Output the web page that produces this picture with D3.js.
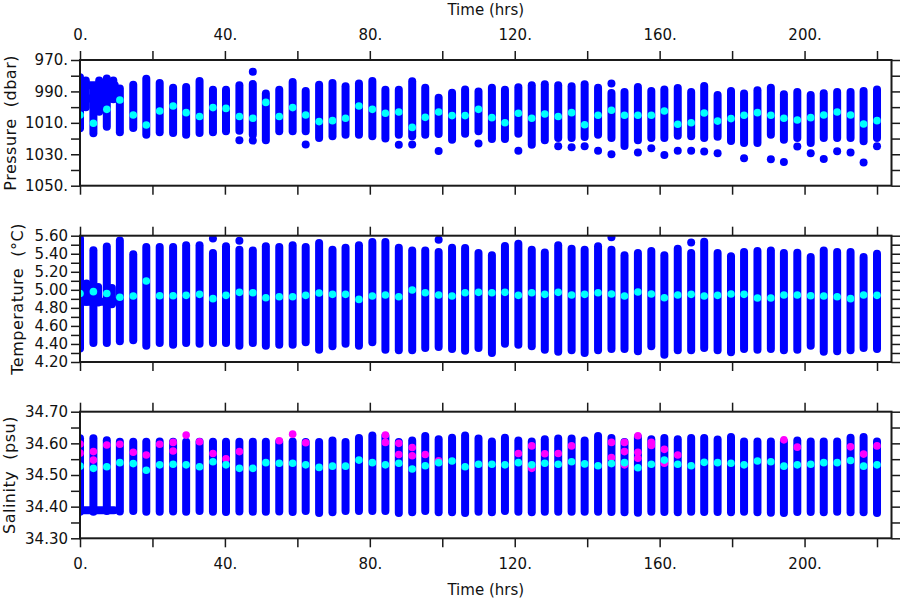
<!DOCTYPE html>
<html><head><meta charset="utf-8">
<script src="https://cdn.jsdelivr.net/npm/d3@7/dist/d3.min.js"></script>
<style>
body{margin:0;background:#fff}
svg{display:block;background:#fff}
text{font-family:"DejaVu Sans",sans-serif;fill:#111}
</style>
</head><body>
<svg id="chart" width="900" height="600"></svg>
<script>
// ---------- DATA ----------
const times = [11.0,14.7,18.3,22.0,25.7,29.3,33.0,36.7,40.3,44.0,47.7,51.3,55.0,58.7,62.3,66.0,69.7,73.3,77.0,80.7,84.3,88.0,91.7,95.3,99.0,102.7,106.3,110.0,113.7,117.3,121.0,124.7,128.3,132.0,135.7,139.3,143.0,146.7,150.3,154.0,157.7,161.3,165.0,168.7,172.3,176.0,179.7,183.3,187.0,190.7,194.3,198.0,201.7,205.3,209.0,212.7,216.3,220.0];

const presMin  = [988.2,985.7,982.0,984.6,987.6,987.2,983.4,988.9,988.9,986.0,985.3,991.4,988.9,984.0,989.7,985.7,984.6,986.7,985.0,983.4,988.9,988.9,983.6,987.6,994.0,990.8,988.7,990.0,987.6,988.9,987.4,986.1,985.5,986.1,986.7,985.5,987.6,991.0,990.4,987.2,989.7,988.7,987.8,990.4,986.5,992.2,989.7,991.4,989.3,987.6,991.8,990.4,992.2,991.1,990.4,990.4,989.7,988.7];
const presMax  = [1016.0,1013.3,1017.5,1016.0,1016.5,1017.5,1016.5,1016.0,1015.3,1015.0,1017.5,1021.0,1015.3,1015.3,1015.4,1019.6,1018.5,1017.5,1017.5,1018.5,1020.0,1017.5,1018.5,1017.5,1017.1,1020.7,1016.9,1015.4,1020.3,1020.3,1016.9,1023.9,1021.0,1019.6,1019.6,1019.0,1017.5,1019.6,1024.7,1021.1,1019.6,1019.6,1018.2,1018.5,1019.6,1018.8,1021.5,1022.8,1022.8,1017.5,1020.7,1019.6,1022.8,1019.6,1019.6,1019.6,1021.7,1019.6];
const presMean = [995.5,1005.0,1011.4,1002.5,999.3,1003.5,1006.0,1000.3,1000.8,1006.0,1007.1,997.0,1006.0,1000.3,1005.0,1009.2,1008.6,1007.1,999.3,1001.4,1003.9,1003.1,1012.9,1006.5,1003.1,1005.4,1005.4,1001.4,1006.7,1009.9,1003.9,1007.1,1004.4,1006.0,1003.5,1011.2,1005.2,1002.0,1005.2,1005.2,1005.2,1002.5,1010.9,1009.9,1003.7,1008.9,1007.3,1005.2,1003.5,1005.2,1007.1,1008.2,1006.7,1005.0,1003.1,1005.0,1010.7,1008.6];
const presOutliers = [[44.0,1021.0],[47.7,977.4],[47.7,1021.3],[62.3,1023.7],[88.0,1023.9],[91.7,1023.7],[99.0,1027.9],[110.0,1023.2],[121.0,1027.7],[132.0,1024.9],[135.7,1025.5],[139.3,1024.9],[143.0,1027.7],[146.7,985.0],[146.7,1030.0],[154.0,1028.8],[157.7,1026.2],[161.3,1030.5],[165.0,1027.7],[168.7,1027.7],[172.3,1028.3],[176.0,1029.4],[183.3,1032.6],[190.7,1033.2],[194.3,1034.9],[198.0,1025.1],[201.7,1029.4],[205.3,1033.0],[209.0,1028.1],[212.7,1028.8],[216.3,1035.3],[220.0,1024.9]];

const tempMin  = [4.429,4.440,4.381,4.410,4.392,4.410,4.403,4.410,4.410,4.381,4.410,4.381,4.392,4.392,4.418,4.337,4.374,4.403,4.381,4.418,4.337,4.329,4.329,4.355,4.366,4.344,4.326,4.355,4.300,4.403,4.392,4.374,4.337,4.315,4.329,4.300,4.329,4.344,4.344,4.318,4.374,4.280,4.329,4.329,4.355,4.329,4.307,4.344,4.337,4.344,4.329,4.337,4.381,4.315,4.318,4.329,4.355,4.344];
const tempMax  = [5.548,5.393,5.474,5.474,5.474,5.493,5.493,5.408,5.482,5.445,5.437,5.482,5.474,5.493,5.474,5.519,5.445,5.467,5.493,5.530,5.530,5.467,5.437,5.437,5.419,5.467,5.463,5.408,5.382,5.485,5.511,5.445,5.415,5.493,5.456,5.445,5.482,5.445,5.382,5.408,5.430,5.382,5.455,5.408,5.534,5.408,5.371,5.419,5.430,5.437,5.408,5.412,5.364,5.437,5.419,5.419,5.364,5.401];
const tempMean = [4.917,4.931,5.098,4.935,4.935,4.939,4.950,4.902,4.939,4.972,4.968,4.913,4.924,4.924,4.939,4.965,4.950,4.950,4.894,4.931,4.942,4.924,4.998,4.968,4.942,4.931,4.968,4.972,4.968,4.972,4.939,4.968,4.950,4.972,4.942,4.950,4.968,4.954,4.931,4.976,4.954,4.913,4.942,4.950,4.931,4.939,4.954,4.950,4.909,4.909,4.942,4.942,4.935,4.931,4.924,4.902,4.942,4.939];
const tempOutliers = [[36.7,5.570],[44.0,5.545],[99.0,5.556],[146.7,5.582],[168.7,5.526]];

const salMin  = [34.385,34.386,34.384,34.384,34.385,34.384,34.386,34.384,34.383,34.385,34.384,34.384,34.385,34.383,34.386,34.380,34.382,34.386,34.386,34.386,34.386,34.380,34.382,34.386,34.382,34.382,34.380,34.384,34.382,34.386,34.384,34.382,34.384,34.384,34.384,34.384,34.384,34.383,34.382,34.381,34.384,34.383,34.382,34.384,34.383,34.383,34.382,34.384,34.382,34.381,34.380,34.383,34.383,34.382,34.384,34.382,34.382,34.380];
const salMax  = [34.605,34.605,34.605,34.606,34.605,34.605,34.605,34.605,34.605,34.605,34.605,34.605,34.605,34.606,34.604,34.604,34.609,34.604,34.617,34.625,34.623,34.604,34.609,34.623,34.613,34.618,34.625,34.615,34.606,34.618,34.609,34.606,34.613,34.615,34.615,34.609,34.623,34.617,34.604,34.620,34.613,34.617,34.613,34.617,34.617,34.612,34.620,34.606,34.606,34.606,34.606,34.609,34.606,34.606,34.606,34.618,34.620,34.606];
const salMean = [34.539,34.536,34.515,34.532,34.534,34.532,34.526,34.542,34.532,34.521,34.521,34.539,34.537,34.537,34.532,34.524,34.528,34.528,34.547,34.539,34.532,34.537,34.519,34.529,34.539,34.544,34.526,34.534,34.534,34.532,34.539,34.532,34.537,34.534,34.542,34.535,34.529,34.536,34.539,34.523,34.534,34.547,34.534,34.529,34.540,34.539,34.537,34.532,34.544,34.542,34.528,34.532,34.534,34.539,34.539,34.546,34.528,34.532];
const salHigh = [[11.0,34.597],[14.7,34.572],[18.3,34.563],[22.0,34.597],[25.7,34.603],[25.7,34.576],[29.3,34.626],[33.0,34.605],[36.7,34.568],[40.3,34.551],[44.0,34.574],[55.0,34.608],[58.7,34.629],[62.3,34.602],[84.3,34.626],[84.3,34.603],[88.0,34.600],[88.0,34.565],[91.7,34.587],[91.7,34.561],[95.3,34.565],[99.0,34.545],[121.0,34.568],[124.7,34.592],[124.7,34.521],[128.3,34.567],[132.0,34.568],[135.7,34.592],[146.7,34.603],[146.7,34.555],[150.3,34.603],[150.3,34.574],[150.3,34.532],[154.0,34.624],[154.0,34.572],[154.0,34.553],[157.7,34.603],[157.7,34.593],[161.3,34.581],[161.3,34.537],[165.0,34.563],[194.3,34.611],[198.0,34.588],[212.7,34.589],[216.3,34.566],[220.0,34.592]];

// early yo-yo casts (first ~10 hours)
const earlyTimes = [0.0,3.7,7.4];
const earlyPresMin = [981.0,987.0,981.7];
const earlyPresMax = [1013.5,1016.6,1012.5];
const earlyPresMean = [1005.0,1010.3,1001.4];
const earlyPresLinks = [[0.5,986.0,9.6,986.0],[0.5,994.5,9.6,994.5],[1.6,983.0,1.6,1000.0],[5.3,983.0,5.3,1003.0],[9.2,983.0,9.2,995.0]];
const earlyTempMin = [4.35,4.41,4.41];
const earlyTempMax = [5.57,5.44,5.48];
const earlyTempMean = [4.96,4.98,4.96];
const earlyTempLinks = [[0.0,4.868,9.4,4.868],[1.8,4.868,1.8,5.07],[5.0,4.86,5.0,5.03],[8.8,4.84,8.8,5.02]];
const earlySalMin = [34.384,34.384,34.386];
const earlySalMax = [34.616,34.616,34.610];
const earlySalMean = [34.528,34.521,34.526];
const earlySalLinks = [[0.0,34.389,9.4,34.389]];
const earlySalHigh = [[0.0,34.598],[0.0,34.569],[3.7,34.574],[3.7,34.547],[7.4,34.595]];

// axes / labels
const xTicks = [0,20,40,60,80,100,120,140,160,180,200,220];
const xLabelTicks = [0,40,80,120,160,200];
const presTicks = [970,980,990,1000,1010,1020,1030,1040,1050];
const presLabelTicks = [970,990,1010,1030,1050];
const tempTicks = [4.2,4.3,4.4,4.5,4.6,4.7,4.8,4.9,5.0,5.1,5.2,5.3,5.4,5.5,5.6];
const tempLabelTicks = [4.2,4.4,4.6,4.8,5.0,5.2,5.4,5.6];
const salTicks = [34.30,34.35,34.40,34.45,34.50,34.55,34.60,34.65,34.70];
const salLabelTicks = [34.3,34.4,34.5,34.6,34.7];

// ---------- DRAW ----------
const svg = d3.select("#chart");
const X0 = 80, X1 = 891.5;
const x = d3.scaleLinear().domain([0,224]).range([X0,X1]);
const BLUE = "#0000ff", CYAN = "#00ffff", MAGENTA = "#ff00ff", AX = "#1a1a1a";

function near(a, arr){ return arr.some(v => Math.abs(v-a) < 1e-6); }

const panels = [
  {id:"p", top:60, bottom:185.7, domain:[1050,970], ticks:presTicks, labels:presLabelTicks,
   fmt:d=>d3.format("d")(d)+".", title:"Pressure\u00a0\u00a0(dbar)", titleX:15.5,
   cols:{min:presMin,max:presMax,mean:presMean}, outl:presOutliers, high:[],
   early:{min:earlyPresMin,max:earlyPresMax,mean:earlyPresMean,links:earlyPresLinks,high:[]}},
  {id:"t", top:235.7, bottom:362, domain:[4.2,5.6], ticks:tempTicks, labels:tempLabelTicks,
   fmt:d3.format(".2f"), title:"Temperature\u00a0\u00a0(\u00b0C)", titleX:22.5,
   cols:{min:tempMin,max:tempMax,mean:tempMean}, outl:tempOutliers, high:[],
   early:{min:earlyTempMin,max:earlyTempMax,mean:earlyTempMean,links:earlyTempLinks,high:[]}},
  {id:"s", top:411.7, bottom:538.3, domain:[34.3,34.7], ticks:salTicks, labels:salLabelTicks,
   fmt:d3.format(".2f"), title:"Salinity\u00a0\u00a0(psu)", titleX:14.5,
   cols:{min:salMin,max:salMax,mean:salMean}, outl:[], high:salHigh,
   early:{min:earlySalMin,max:earlySalMax,mean:earlySalMean,links:earlySalLinks,high:earlySalHigh}}
];

panels.forEach((P, pi) => {
  const y = d3.scaleLinear().domain(P.domain).range([P.bottom, P.top]);
  const clipId = "clip-" + P.id;
  svg.append("clipPath").attr("id", clipId).append("rect")
    .attr("x", X0).attr("y", P.top).attr("width", X1-X0).attr("height", P.bottom-P.top);
  const g = svg.append("g").attr("clip-path", `url(#${clipId})`);

  const segs = times.map((t,i) => [t, P.cols.min[i], t, P.cols.max[i]])
    .concat(earlyTimes.map((t,i) => [t, P.early.min[i], t, P.early.max[i]]))
    .concat(P.early.links);
  g.selectAll("line.seg").data(segs).join("line").attr("class","seg")
    .attr("x1", d=>x(d[0])).attr("y1", d=>y(d[1]))
    .attr("x2", d=>x(d[2])).attr("y2", d=>y(d[3]))
    .attr("stroke", BLUE).attr("stroke-width", 8).attr("stroke-linecap","round");
  g.selectAll("circle.out").data(P.outl).join("circle").attr("class","out")
    .attr("cx", d=>x(d[0])).attr("cy", d=>y(d[1])).attr("r", 4).attr("fill", BLUE);
  g.selectAll("circle.high").data(P.high.concat(P.early.high)).join("circle").attr("class","high")
    .attr("cx", d=>x(d[0])).attr("cy", d=>y(d[1])).attr("r", 3.8).attr("fill", MAGENTA);
  const means = times.map((t,i)=>[t, P.cols.mean[i]]).concat(earlyTimes.map((t,i)=>[t, P.early.mean[i]]));
  g.selectAll("circle.mean").data(means).join("circle").attr("class","mean")
    .attr("cx", d=>x(d[0])).attr("cy", d=>y(d[1])).attr("r", 3.8).attr("fill", CYAN);

  const styleAxis = (sel) => {
    sel.select(".domain").remove();
    sel.selectAll(".tick line").attr("stroke", AX).attr("stroke-width", 1.5);
    sel.selectAll(".tick text").attr("font-size", 15).attr("fill", "#111")
      .attr("font-family", "DejaVu Sans, sans-serif");
  };
  svg.append("g").attr("transform", `translate(${X0},0)`)
    .call(d3.axisLeft(y).tickValues(P.ticks).tickSize(9).tickPadding(3)
      .tickFormat(d => near(d, P.labels) ? P.fmt(d) : ""))
    .call(styleAxis);
  svg.append("g").attr("transform", `translate(${X1},0)`)
    .call(d3.axisRight(y).tickValues(P.ticks).tickSize(9).tickFormat(""))
    .call(styleAxis);
  svg.append("g").attr("transform", `translate(0,${P.top})`)
    .call(d3.axisTop(x).tickValues(xTicks).tickSize(9).tickPadding(11)
      .tickFormat(d => (pi===0 && near(d, xLabelTicks)) ? d + "." : ""))
    .call(styleAxis);
  svg.append("g").attr("transform", `translate(0,${P.bottom})`)
    .call(d3.axisBottom(x).tickValues(xTicks).tickSize(9).tickPadding(11)
      .tickFormat(d => (pi===2 && near(d, xLabelTicks)) ? d + "." : ""))
    .call(styleAxis);

  svg.append("rect").attr("x", X0).attr("y", P.top).attr("width", X1-X0).attr("height", P.bottom-P.top)
    .attr("fill","none").attr("stroke", AX).attr("stroke-width", 2);

  svg.append("text")
    .attr("transform", `translate(${P.titleX},${(P.top+P.bottom)/2}) rotate(-90)`)
    .attr("text-anchor","middle").attr("font-size", 16).attr("letter-spacing", 0.5).text(P.title);
});

svg.append("text").attr("x", (X0+X1)/2).attr("y", 15).attr("text-anchor","middle")
  .attr("font-size", 15).text("Time (hrs)");
svg.append("text").attr("x", (X0+X1)/2).attr("y", 595).attr("text-anchor","middle")
  .attr("font-size", 15).text("Time (hrs)");
</script>
</body></html>
